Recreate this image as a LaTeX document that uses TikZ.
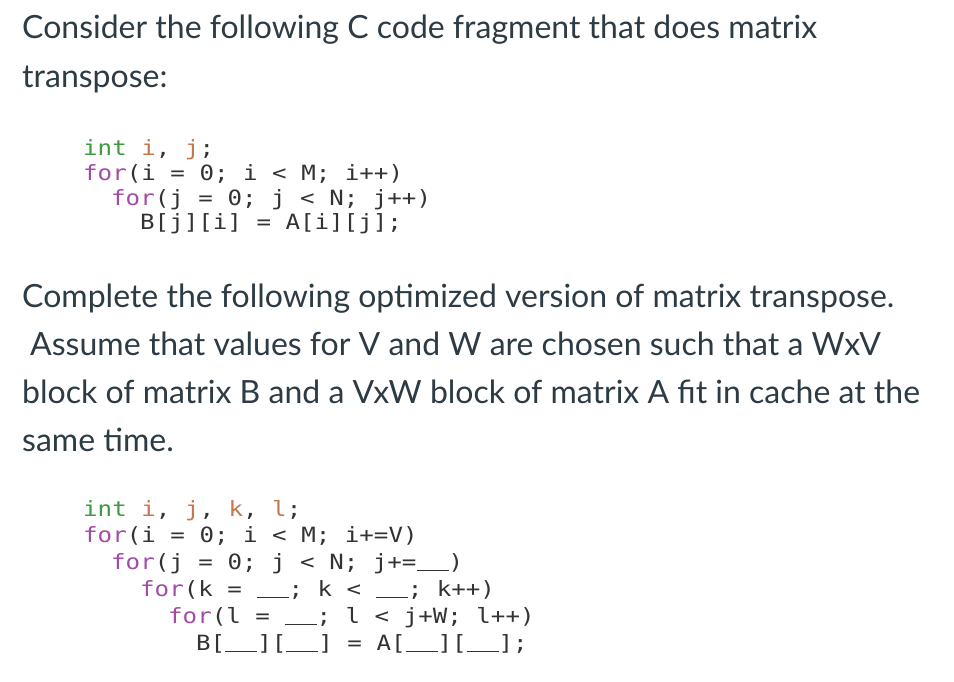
\documentclass[tikz,border=0pt]{standalone}
\usepackage{fontspec}
\setmainfont{Lato}
\setmonofont[FakeStretch=1.15]{DejaVu Sans Mono}
\definecolor{txt}{HTML}{2D3B45}
\definecolor{cd}{HTML}{333333}
\definecolor{kw}{HTML}{A24CA8}
\definecolor{ty}{HTML}{3E9A3E}
\definecolor{vr}{HTML}{C4784C}
\newcommand{\K}[1]{\textcolor{kw}{#1}}
\newcommand{\T}[1]{\textcolor{ty}{#1}}
\newcommand{\V}[1]{\textcolor{vr}{#1}}
\newcommand{\blank}{\rule[-2bp]{32bp}{1.5bp}}
\begin{document}
\begin{tikzpicture}[x=1bp,y=-1bp,
  para/.style={anchor=base west,inner sep=0,text=txt,font=\fontsize{32bp}{36bp}\selectfont},
  code/.style={anchor=base west,inner sep=0,text=cd,font=\ttfamily\fontsize{21bp}{24bp}\selectfont}]
\useasboundingbox (0,0) rectangle (954,682);
\node[para] (p1) at (22,39) {Consider the following C code fragment that does matrix};
\node[para] (p2) at (22,88) {transpose:};
\node[code] (a1) at (83,156) {\T{int} \V{i}, \V{j};};
\node[code] (a2) at (83,181) {\K{for}(i = 0; i < M; i++)};
\node[code] (a3) at (111,205) {\K{for}(j = 0; j < N; j++)};
\node[code] (a4) at (140,229) {B[j][i] = A[i][j];};
\node[para] (q1) at (22,307) {Complete the following optimized version of matrix transpose.};
\node[para] (q2) at (30,355) {Assume that values for V and W are chosen such that a WxV};
\node[para] (q3) at (22,403) {block of matrix B and a VxW block of matrix A fit in cache at the};
\node[para] (q4) at (22,451) {same time.};
\node[code] (b1) at (83,516) {\T{int} \V{i}, \V{j}, \V{k}, \V{l};};
\node[code] (b2) at (83,542) {\K{for}(i = 0; i < M; i+=V)};
\node[code] (b3) at (111,569) {\K{for}(j = 0; j < N; j+=\blank)};
\node[code] (b4) at (140,596) {\K{for}(k = \blank; k < \blank; k++)};
\node[code] (b5) at (168,623) {\K{for}(l = \blank; l < j+W; l++)};
\node[code] (b6) at (196,650) {B[\blank][\blank] = A[\blank][\blank];};
\end{tikzpicture}
\end{document}
